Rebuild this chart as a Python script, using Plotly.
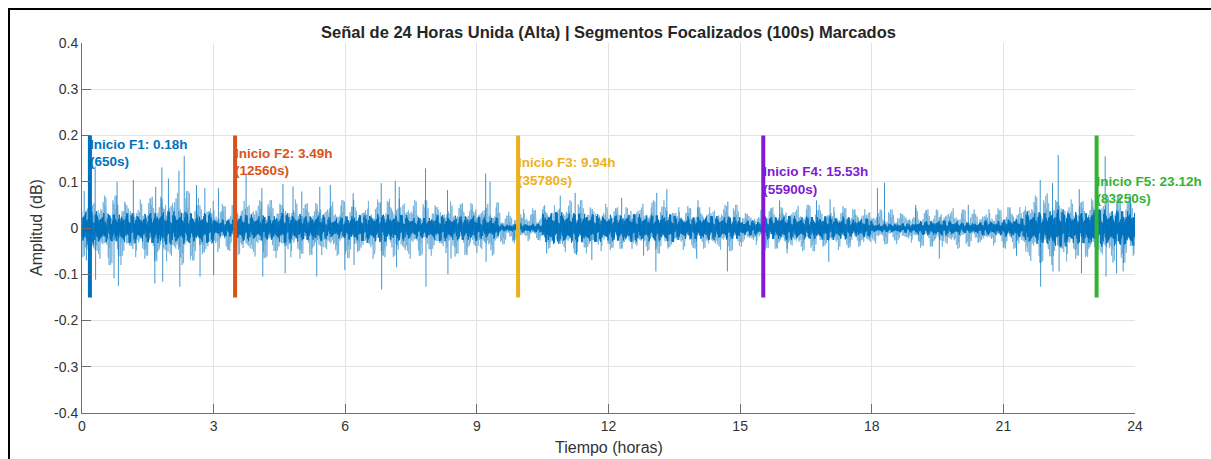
import plotly.graph_objects as go

# ---------------------------------------------------------------------------
# Datos de la señal (envolventes por tramos de 0.5 h y picos destacados)
# ---------------------------------------------------------------------------
tramo_h = 0.5  # duración de cada tramo de envolvente (horas)

# semiamplitud del núcleo denso de la señal por tramo
nucleo = [0.036, 0.032, 0.032, 0.036, 0.036, 0.032, 0.020, 0.028,
          0.028, 0.032, 0.028, 0.024, 0.028, 0.032, 0.028, 0.024,
          0.028, 0.028, 0.024, 0.008, 0.010, 0.034, 0.034, 0.030,
          0.030, 0.030, 0.030, 0.026, 0.026, 0.026, 0.016, 0.026,
          0.026, 0.026, 0.026, 0.020, 0.010, 0.010, 0.016, 0.016,
          0.012, 0.016, 0.020, 0.036, 0.040, 0.036, 0.040, 0.040]

# extremos exteriores (actividad dispersa) por tramo
borde_sup = [0.070, 0.070, 0.065, 0.075, 0.080, 0.065, 0.055, 0.065,
             0.060, 0.065, 0.060, 0.060, 0.060, 0.065, 0.070, 0.060,
             0.060, 0.060, 0.055, 0.035, 0.045, 0.055, 0.060, 0.055,
             0.050, 0.055, 0.060, 0.050, 0.050, 0.050, 0.040, 0.050,
             0.050, 0.050, 0.050, 0.045, 0.040, 0.040, 0.045, 0.045,
             0.040, 0.045, 0.050, 0.070, 0.075, 0.065, 0.070, 0.070]
borde_inf = [-0.070, -0.080, -0.070, -0.080, -0.080, -0.070, -0.055, -0.065,
             -0.065, -0.070, -0.065, -0.060, -0.065, -0.070, -0.070, -0.060,
             -0.060, -0.065, -0.060, -0.035, -0.030, -0.050, -0.055, -0.055,
             -0.050, -0.050, -0.055, -0.050, -0.050, -0.050, -0.040, -0.050,
             -0.050, -0.050, -0.050, -0.045, -0.035, -0.035, -0.045, -0.045,
             -0.040, -0.040, -0.050, -0.075, -0.080, -0.070, -0.075, -0.075]

# picos aislados: instante (h) y amplitud (dB)
pico_t = [0.05, 0.10, 0.30, 0.31, 0.73, 0.80, 0.83, 1.17, 1.66, 1.68, 1.82, 1.84,
          1.97, 2.21, 2.23, 2.33, 2.61, 2.69, 2.80, 3.00, 3.11, 3.74, 4.10,
          4.12, 4.58, 4.63, 4.81, 5.01, 5.35, 5.42, 5.66, 5.99, 6.18, 6.20,
          6.82, 6.83, 7.14, 7.17, 7.23, 7.83, 7.84, 8.33, 8.34, 8.41, 9.20,
          9.21, 9.30, 9.85, 10.59, 10.90, 11.24, 11.27, 11.62, 12.30, 12.80,
          13.08, 13.10, 13.33, 14.01, 14.04, 14.71, 14.72, 15.90, 16.07,
          16.74, 17.02, 17.05, 18.13, 18.29, 19.00, 19.54, 20.20, 21.30,
          21.84, 21.85, 22.12, 22.13, 22.25, 22.27, 22.73, 22.78, 23.32,
          23.34, 23.58, 23.73, 23.90]
pico_v = [0.080, -0.070, 0.133, -0.112, -0.109, 0.100, -0.125, 0.104, -0.120,
          0.089, 0.131, -0.116, 0.107, 0.124, -0.127, 0.156, 0.093, -0.105,
          0.086, -0.102, 0.086, 0.118, 0.086, -0.105, 0.095, -0.098, 0.090,
          0.079, -0.105, 0.089, 0.093, -0.091, 0.075, -0.080, 0.097, -0.133,
          0.102, -0.085, 0.089, 0.129, -0.127, 0.082, -0.100, -0.066, 0.118,
          -0.073, 0.100, -0.033, -0.055, 0.070, 0.076, -0.058, -0.069, 0.065,
          -0.060, -0.094, 0.076, 0.084, -0.066, 0.060, -0.094, 0.057, 0.060,
          -0.055, 0.060, -0.073, 0.062, 0.086, 0.098, 0.050, -0.066, 0.050,
          -0.060, 0.104, -0.127, 0.097, -0.094, 0.158, -0.094, 0.084, -0.098,
          0.155, -0.105, -0.098, -0.094, 0.070]

# inicios de los segmentos focalizados (s)
marca_nombre = ["F1", "F2", "F3", "F4", "F5"]
marca_s = [650, 12560, 35780, 55900, 83250]
marca_color = ["#0072BD", "#D95319", "#EDB120", "#801AD6", "#33B333"]

duracion_h = 24

# ---------------------------------------------------------------------------
# Trazado de la forma de onda a partir de las envolventes
# ---------------------------------------------------------------------------
AZUL = "#0072BD"
# patrones de longitud de trazo para dar textura al dibujo de la onda
textura_a = [0.55, 1.0, 0.35, 0.8, 0.6, 0.95, 0.25, 0.7, 0.9, 0.45, 0.75,
             0.3, 0.85, 0.5, 1.0, 0.4, 0.65]
textura_b = [1.0, 0.7, 0.9, 0.5, 1.0, 0.8, 0.6, 0.95, 0.75, 1.0, 0.55, 0.85, 0.65]


def onda(paso, sup, inf, desfase):
    xs, ys = [], []
    n = int(round(duracion_h / paso))
    nb = len(sup)
    for k in range(n + 1):
        t = k * paso
        b = min(int(t / tramo_h), nb - 1)
        f = textura_a[(k + desfase) % len(textura_a)] * \
            textura_b[(k + 2 * desfase) % len(textura_b)]
        xs.append(t)
        ys.append(sup[b] * f if k % 2 == 0 else inf[b] * f)
    return xs, ys


fig = go.Figure()

# actividad dispersa (trazos finos y claros)
fx, fy = onda(0.008, borde_sup, borde_inf, 5)
fig.add_trace(go.Scatter(x=fx, y=fy, mode="lines",
                         line=dict(color=AZUL, width=0.7), opacity=0.6,
                         hoverinfo="skip", showlegend=False))

# núcleo denso
nx, ny = onda(0.004, nucleo, [-v for v in nucleo], 0)
fig.add_trace(go.Scatter(x=nx, y=ny, mode="lines",
                         line=dict(color=AZUL, width=1.0),
                         hoverinfo="skip", showlegend=False))

# picos aislados
px, py = [], []
for t, v in zip(pico_t, pico_v):
    px += [t, t, None]
    py += [0, v, None]
fig.add_trace(go.Scatter(x=px, y=py, mode="lines",
                         line=dict(color=AZUL, width=1.0), opacity=0.75,
                         hoverinfo="skip", showlegend=False))

# ---------------------------------------------------------------------------
# Marcas de inicio de cada segmento
# ---------------------------------------------------------------------------
FUENTE = "Liberation Sans, Arial, sans-serif"
etiqueta_y = [0.16, 0.14, 0.12, 0.10, 0.08]
for nombre, seg, color, yl in zip(marca_nombre, marca_s, marca_color, etiqueta_y):
    th = seg / 3600
    fig.add_trace(go.Scatter(
        x=[th], y=[yl], mode="text", cliponaxis=False,
        text=[f"Inicio {nombre}: {th:.2f}h<br>({seg}s)"],
        textposition="middle right",
        textfont=dict(family=FUENTE, size=13.5, color=color, weight="bold"),
        hoverinfo="skip", showlegend=False))
for seg, color in zip(marca_s, marca_color):
    th = seg / 3600
    fig.add_trace(go.Scatter(x=[th, th], y=[-0.15, 0.2], mode="lines",
                             line=dict(color=color, width=4),
                             hoverinfo="skip", showlegend=False))

# ---------------------------------------------------------------------------
# Ejes, título y marco
# ---------------------------------------------------------------------------
eje = dict(showgrid=True, gridcolor="#E3E3E3", gridwidth=1,
           showline=True, linecolor="#6E6E6E", linewidth=1,
           ticks="inside", ticklen=9, tickcolor="#6E6E6E", tickwidth=1,
           tickfont=dict(family=FUENTE, size=14, color="#333333"),
           zeroline=False, mirror=False)

fig.update_xaxes(range=[0, 24], tickvals=[0, 3, 6, 9, 12, 15, 18, 21, 24],
                 ticktext=["0", "3", "6", "9", "12", "15", "18", "21", "24"],
                 **eje)
fig.update_yaxes(range=[-0.4, 0.4],
                 tickvals=[-0.4, -0.3, -0.2, -0.1, 0, 0.1, 0.2, 0.3, 0.4],
                 ticktext=["-0.4", "-0.3", "-0.2", "-0.1", "0", "0.1", "0.2",
                           "0.3", "0.4"],
                 **eje)

W, H = 1211, 459
ML, MR, MT, MB = 82, 76, 43, 46
pw, ph = W - ML - MR, H - MT - MB


def px_x(p):
    return (p - ML) / pw


def px_y(p):
    return (H - MB - p) / ph


fig.update_layout(
    width=W, height=H,
    margin=dict(l=ML, r=MR, t=MT, b=MB),
    paper_bgcolor="white", plot_bgcolor="white",
    showlegend=False,
    annotations=[
        dict(text="<b>Señal de 24 Horas Unida (Alta) | Segmentos Focalizados (100s) Marcados</b>",
             xref="paper", yref="paper", x=0.5, y=px_y(32),
             xanchor="center", yanchor="middle", showarrow=False,
             font=dict(family=FUENTE, size=16.5, color="#262626")),
        dict(text="Tiempo (horas)", xref="paper", yref="paper",
             x=0.5, y=px_y(447), xanchor="center", yanchor="middle",
             showarrow=False, font=dict(family=FUENTE, size=16, color="#333333")),
        dict(text="Amplitud (dB)", xref="paper", yref="paper",
             x=px_x(36), y=0.5, xanchor="center", yanchor="middle",
             textangle=-90, showarrow=False,
             font=dict(family=FUENTE, size=16, color="#333333")),
    ],
    shapes=[
        dict(type="line", xref="paper", yref="paper",
             x0=px_x(9), x1=px_x(9), y0=px_y(8), y1=px_y(H + 5),
             line=dict(color="black", width=2)),
        dict(type="line", xref="paper", yref="paper",
             x0=px_x(8), x1=px_x(W + 5), y0=px_y(9), y1=px_y(9),
             line=dict(color="black", width=2)),
    ],
)

fig.write_html("out.html")
